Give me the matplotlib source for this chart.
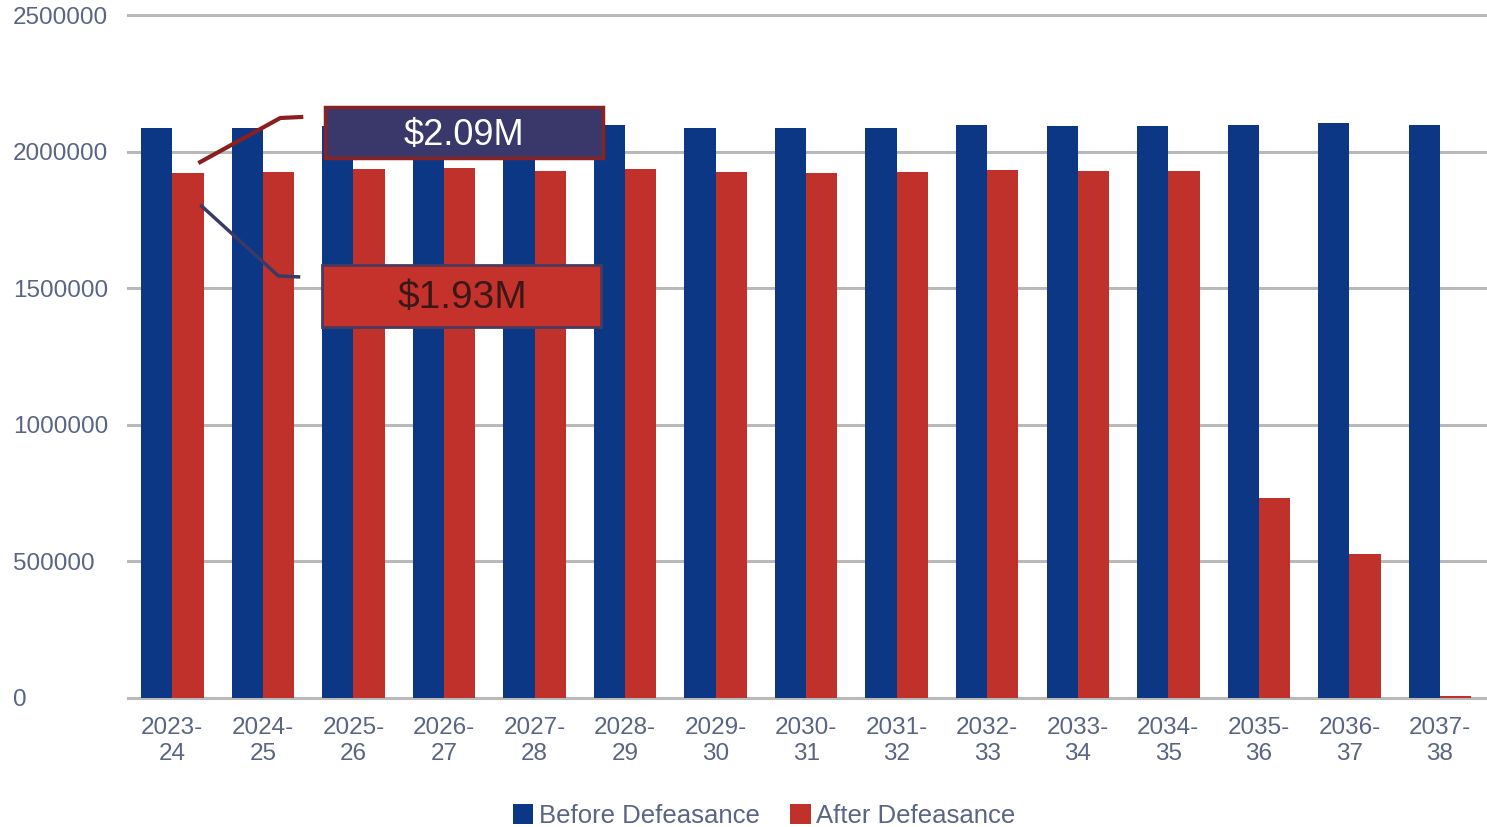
import matplotlib.pyplot as plt
from matplotlib.patches import Rectangle
import numpy as np

plt.rcParams['font.family'] = ['Liberation Sans', 'DejaVu Sans']

#%%
years = ['2023-\n24', '2024-\n25', '2025-\n26', '2026-\n27', '2027-\n28', '2028-\n29',
         '2029-\n30', '2030-\n31', '2031-\n32', '2032-\n33', '2033-\n34', '2034-\n35',
         '2035-\n36', '2036-\n37', '2037-\n38']
before = [2086000, 2087000, 2092000, 2093000, 2094000, 2097000, 2088000, 2087000,
          2087000, 2097000, 2095000, 2092000, 2097000, 2105000, 2097000]
after = [1922000, 1925000, 1936000, 1940000, 1929000, 1936000, 1925000, 1922000,
         1925000, 1933000, 1929000, 1929000, 732000, 527000, 8000]

yticks = [0, 500000, 1000000, 1500000, 2000000, 2500000]
label_before = 'Before Defeasance'
label_after = 'After Defeasance'
note_before = '$2.09M'
note_after = '$1.93M'

blue = '#0C3785'
red = '#C0312B'
txt = '#5A6484'

#%%
fig = plt.figure(figsize=(14.87, 8.27), dpi=100)
ax = fig.add_axes([128/1487, 1-698/827, 1-128/1487, (698-15)/827])

x = np.arange(len(years))
w = 0.345
ax.bar(x - w/2, before, w, color=blue, label=label_before, zorder=3)
ax.bar(x + w/2, after, w, color=red, label=label_after, zorder=3)

ax.set_xlim(-0.49, 14.52)
ax.set_ylim(0, 2500000)
ax.set_yticks(yticks)
ax.set_yticklabels([str(v) for v in yticks])
ax.set_xticks(x)
ax.set_xticklabels(years, linespacing=1.2)
for s in ax.spines.values():
    s.set_visible(False)
ax.yaxis.grid(True, color='#B9B9B9', linewidth=2.2, zorder=0)
for gl in ax.get_ygridlines():
    gl.set_clip_on(False)
ax.tick_params(axis='both', length=0, colors=txt)
ax.tick_params(axis='x', labelsize=17.5, pad=14)
ax.tick_params(axis='y', labelsize=17.5, pad=83)
for t in ax.get_yticklabels():
    t.set_horizontalalignment('left')

#%%
# callout boxes
ax.plot([0.287, 1.192, 1.446], [1958000, 2123000, 2127000], color='#8B1E1E',
        lw=3, clip_on=False, zorder=5, solid_capstyle='butt')
ax.plot([0.309, 1.170, 1.413], [1805000, 1545000, 1541000], color='#3A3A66',
        lw=2.5, clip_on=False, zorder=5, solid_capstyle='butt')

ax.add_patch(Rectangle((1.689, 1977000), 3.07, 186000, facecolor='#3A386B',
                       edgecolor='#8B2222', lw=2.5, zorder=6, clip_on=False))
ax.text(3.22, 2060000, note_before, color='white', fontsize=26, ha='center',
        va='center', zorder=7)
ax.add_patch(Rectangle((1.656, 1358000), 3.08, 227000, facecolor='#C4322B',
                       edgecolor='#4A3B5E', lw=2, zorder=6, clip_on=False))
ax.text(3.2, 1465000, note_after, color='#3B1818', fontsize=28, ha='center',
        va='center', zorder=7)

#%%
fig.legend(loc='center', bbox_to_anchor=(764/1487, 1-816/827), ncol=2, frameon=False,
           fontsize=18.5, labelcolor=txt, handlelength=0.8, handleheight=0.8,
           handletextpad=0.2, columnspacing=1.2, borderpad=0)

fig.savefig('out.png', dpi=100)
